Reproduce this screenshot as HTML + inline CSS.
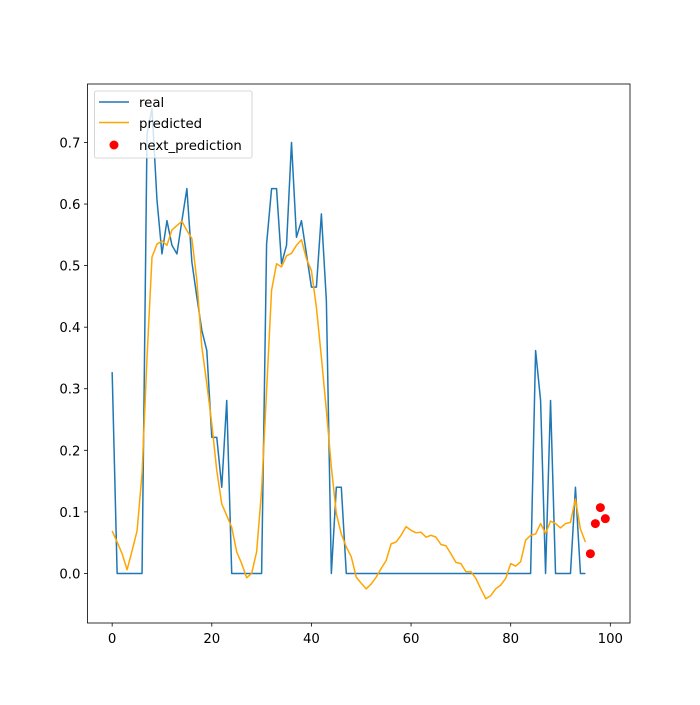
<!DOCTYPE html>
<html><head><meta charset="utf-8"><style>
body{margin:0;background:#fff}
svg text{font-family:"DejaVu Sans","Liberation Sans",sans-serif}
</style></head><body>
<svg id="chart" width="700" height="700" xmlns="http://www.w3.org/2000/svg">
<rect width="700" height="700" fill="#fff"/>
<g id="plot"></g>
</svg>
<script>
const real=[0.327,0,0,0,0,0,0,0.714,0.755,0.606,0.519,0.573,0.533,0.519,0.573,0.625,0.506,0.449,0.395,0.362,0.221,0.221,0.140,0.281,0,0,0,0,0,0,0,0.535,0.625,0.625,0.503,0.533,0.700,0.546,0.573,0.519,0.465,0.465,0.584,0.443,0,0.140,0.140,0,0,0,0,0,0,0,0,0,0,0,0,0,0,0,0,0,0,0,0,0,0,0,0,0,0,0,0,0,0,0,0,0,0,0,0,0,0,0.362,0.281,0,0.281,0,0,0,0,0.140,0,0];
const predicted=[0.069,0.051,0.032,0.006,0.037,0.069,0.162,0.351,0.514,0.535,0.540,0.533,0.558,0.565,0.572,0.557,0.544,0.476,0.368,0.308,0.243,0.167,0.113,0.094,0.075,0.035,0.016,-0.007,0,0.035,0.135,0.297,0.460,0.503,0.498,0.516,0.520,0.533,0.542,0.511,0.492,0.432,0.351,0.265,0.173,0.097,0.064,0.043,0.027,-0.006,-0.016,-0.025,-0.017,-0.006,0.008,0.021,0.048,0.051,0.062,0.076,0.070,0.066,0.067,0.059,0.062,0.059,0.047,0.045,0.032,0.018,0.016,0.003,0.003,-0.008,-0.025,-0.041,-0.036,-0.025,-0.019,-0.008,0.016,0.012,0.019,0.054,0.062,0.064,0.081,0.065,0.085,0.081,0.074,0.081,0.083,0.121,0.072,0.051];
const nextX=[96,97,98,99];
const nextY=[0.032,0.081,0.107,0.089];
const xTicks=[0,20,40,60,80,100];
const yTicks=[0.0,0.1,0.2,0.3,0.4,0.5,0.6,0.7];
const L=87.5,R=630,T=84,B=623;
const xmin=-4.95,xmax=103.95,ymin=-0.0805,ymax=0.795;
const X=v=>L+(v-xmin)/(xmax-xmin)*(R-L);
const Y=v=>B-(v-ymin)/(ymax-ymin)*(B-T);
const g=document.getElementById('plot');
const NS='http://www.w3.org/2000/svg';
function mk(tag,attrs,parent){const e=document.createElementNS(NS,tag);for(const k in attrs)e.setAttribute(k,attrs[k]);(parent||g).appendChild(e);return e;}
let e;
e=mk('polyline',{points:real.map((v,i)=>X(i)+','+Y(v)).join(' '),fill:'none',stroke:'#1f77b4','stroke-width':1.5,'stroke-linejoin':'round'});


e=mk('polyline',{points:predicted.map((v,i)=>X(i)+','+Y(v)).join(' '),fill:'none',stroke:'orange','stroke-width':1.5,'stroke-linejoin':'round'});


nextX.forEach((x,i)=>{
 e=mk('circle',{cx:X(x),cy:Y(nextY[i]),r:4.5,fill:'red'});
 
 
});
e=mk('rect',{x:L,y:T,width:R-L,height:B-T,fill:'none',stroke:'#000','stroke-width':0.8});


xTicks.forEach(t=>{
 mk('line',{x1:X(t),x2:X(t),y1:B,y2:B+3.5,stroke:'#000','stroke-width':0.8});
 e=mk('text',{x:X(t),y:B+20,'text-anchor':'middle','font-size':13.3,fill:'#000'});
 e.textContent=t;
 
 
});
yTicks.forEach(t=>{
 mk('line',{x1:L-3.5,x2:L,y1:Y(t),y2:Y(t),stroke:'#000','stroke-width':0.8});
 e=mk('text',{x:L-7,y:Y(t)+5,'text-anchor':'end','font-size':13.3,fill:'#000'});
 e.textContent=t.toFixed(1);
 
 
});
const lg=mk('g',{});


mk('rect',{x:94.5,y:91,width:157.5,height:67,rx:2,fill:'#fff','fill-opacity':0.8,stroke:'#ccc','stroke-width':0.8},lg);
mk('line',{x1:99,x2:129,y1:102,y2:102,stroke:'#1f77b4','stroke-width':1.5},lg);
mk('line',{x1:99,x2:129,y1:122.5,y2:122.5,stroke:'orange','stroke-width':1.5},lg);
mk('circle',{cx:114,cy:145,r:4.5,fill:'red'},lg);
[['real',107],['predicted',128],['next_prediction',150]].forEach(([s,y])=>{
 e=mk('text',{x:139,y:y,'font-size':13.3,fill:'#000'},lg);
 e.textContent=s;
 
 
});
</script>
</body></html>
